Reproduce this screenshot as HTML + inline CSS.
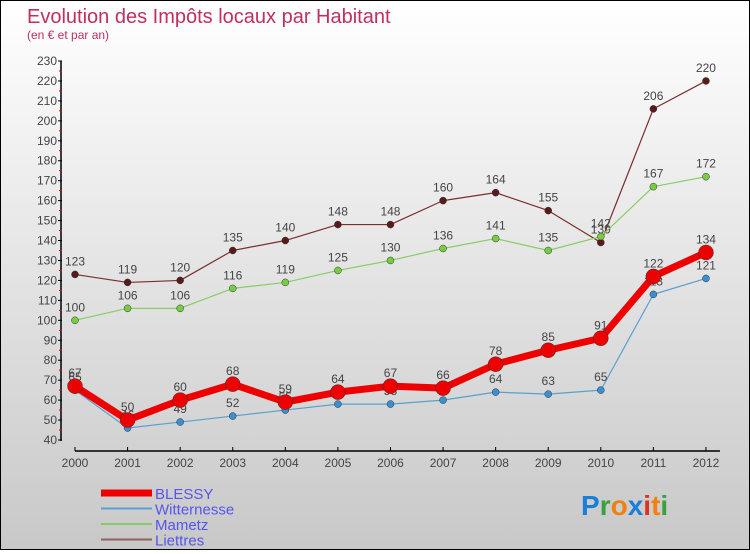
<!DOCTYPE html>
<html><head><meta charset="utf-8"><style>
html,body{margin:0;padding:0;}
body{width:750px;height:550px;overflow:hidden;font-family:"Liberation Sans","DejaVu Sans",sans-serif;}
#wrap{position:relative;width:748px;height:548px;border:1px solid #000;background:linear-gradient(#fff,#c8c8c8);}
</style></head><body>
<div id="wrap">
<svg id="chart" width="748" height="548" viewBox="0 0 748 548" xmlns="http://www.w3.org/2000/svg">
<text x="26" y="22" font-size="20" fill="#c0305a">Evolution des Impôts locaux par Habitant</text>
<text x="26" y="38" font-size="12" fill="#c0305a">(en € et par an)</text>
<g id="axes"></g>
<g id="series"></g>
<g id="legend"></g>
<text x="580" y="514" font-size="28" font-weight="bold"><tspan fill="#1a7fd6">P</tspan><tspan fill="#3aa040">r</tspan><tspan fill="#f08010">o</tspan><tspan fill="#1a7fd6">x</tspan><tspan fill="#e03020">i</tspan><tspan fill="#f08010">t</tspan><tspan fill="#3aa040">i</tspan></text>
</svg>
</div>
<script>
const years = ["2000","2001","2002","2003","2004","2005","2006","2007","2008","2009","2010","2011","2012"];
const blessy = [67,50,60,68,59,64,67,66,78,85,91,122,134];
const witternesse = [65,46,49,52,55,58,58,60,64,63,65,113,121];
const mametz = [100,106,106,116,119,125,130,136,141,135,142,167,172];
const liettres = [123,119,120,135,140,148,148,160,164,155,139,206,220];
const yTicks = [40,50,60,70,80,90,100,110,120,130,140,150,160,170,180,190,200,210,220,230];
const NS="http://www.w3.org/2000/svg";
const x0=74, xStep=52.58, yBase=439, yTop=60, yMin=40, yMax=230;
function X(i){return x0+i*xStep;}
function Y(v){return yBase-(v-yMin)*(yBase-yTop)/(yMax-yMin);}
function mk(tag,attrs,parent){const e=document.createElementNS(NS,tag);for(const k in attrs)e.setAttribute(k,attrs[k]);parent.appendChild(e);return e;}
const axes=document.getElementById('axes');
let l=mk('line',{x1:60,y1:Y(yMax),x2:60,y2:yBase+1,stroke:'#000','stroke-width':1.5},axes);


yTicks.forEach(v=>{
 const t=mk('line',{x1:57,y1:Y(v),x2:61,y2:Y(v),stroke:'#000'},axes);
 
 
 if(v<yMax){const m=mk('line',{x1:58,y1:Y(v+5),x2:61,y2:Y(v+5),stroke:'#e00'},axes);
 
 }
 const tx=mk('text',{x:56,y:Y(v)+4,'text-anchor':'end','font-size':12,fill:'#444'},axes);
 tx.textContent=v;
 
 
});
l=mk('line',{x1:X(0),y1:450,x2:X(12)+14,y2:450,stroke:'#000','stroke-width':1.5},axes);


years.forEach((yr,i)=>{
 const t=mk('line',{x1:X(i),y1:446,x2:X(i),y2:450,stroke:'#000'},axes);
 
 
 const tx=mk('text',{x:X(i),y:466,'text-anchor':'middle','font-size':12,fill:'#444'},axes);
 tx.textContent=yr;
 
 
});
const ser=document.getElementById('series');
function draw(vals,name,color,dot,w,r){
 const g=mk('g',{},ser);
 
 
 const p=mk('polyline',{points:vals.map((v,i)=>X(i)+','+Y(v)).join(' '),fill:'none',stroke:color,'stroke-width':w,'stroke-linejoin':'round'},g);
 
 
 vals.forEach((v,i)=>{
  const c=mk('circle',{cx:X(i),cy:Y(v),r:r,fill:dot,stroke:'#333','stroke-width':0.5},g);
  
  
  const t=mk('text',{x:X(i),y:Y(v)-9,'text-anchor':'middle','font-size':12,fill:'#444'},g);
  t.textContent=v;
  
  
 });
}
draw(liettres,'liettres','#7a2e2e','#5a1a1a',1.2,3.5);
draw(mametz,'mametz','#88cc66','#77cc44',1.2,3.5);
draw(witternesse,'witternesse','#5a9fd0','#3a8fd0',1.2,3.5);
draw(blessy,'blessy','#ee0000','#ee0000',7,7.5);
const leg=document.getElementById('legend');
const items=[["BLESSY","#ee0000",7],["Witternesse","#5a9fd0",2],["Mametz","#88cc66",2],["Liettres","#906060",2]];
items.forEach((it,i)=>{
 const y=492+i*15.5;
 const g=mk('g',{},leg);
 
 
 mk('line',{x1:100,y1:y,x2:151,y2:y,stroke:it[1],'stroke-width':it[2]},g);
 const t=mk('text',{x:154,y:y+6,'font-size':15,fill:'#5555ee'},g);
 t.textContent=it[0];
});
</script>
</body></html>
